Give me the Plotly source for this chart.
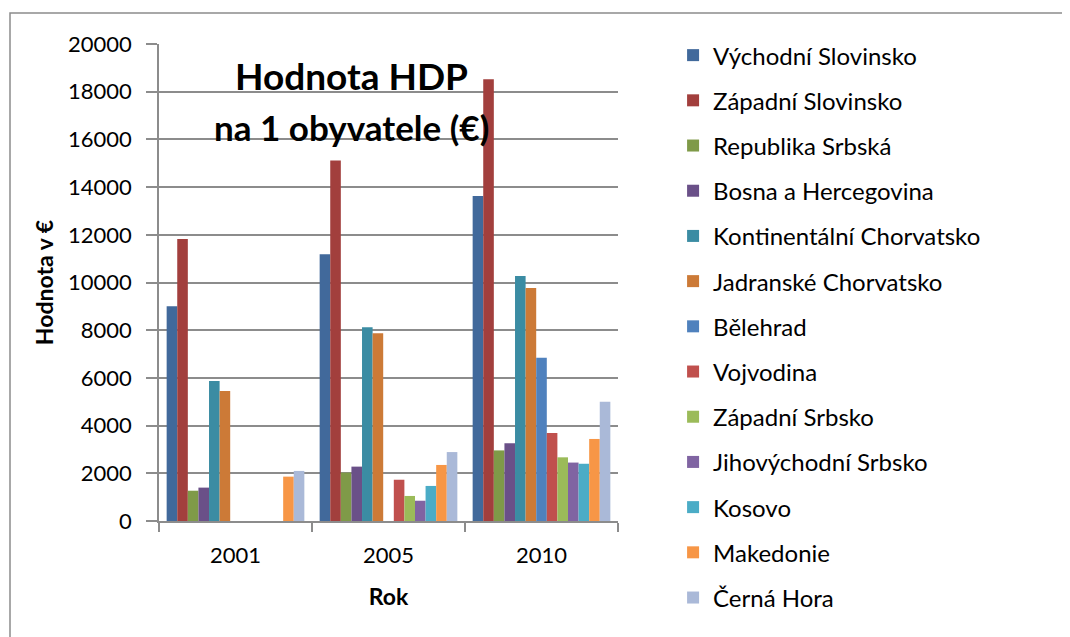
import plotly.graph_objects as go

years = ["2001", "2005", "2010"]
regions = [
    "Východní Slovinsko", "Západní Slovinsko", "Republika Srbská", "Bosna a Hercegovina",
    "Kontinentální Chorvatsko", "Jadranské Chorvatsko", "Bělehrad", "Vojvodina",
    "Západní Srbsko", "Jihovýchodní Srbsko", "Kosovo", "Makedonie", "Černá Hora",
]
vychodni_slovinsko = [9000, 11180, 13630]
zapadni_slovinsko = [11820, 15120, 18520]
republika_srbska = [1270, 2030, 2960]
bosna_a_hercegovina = [1400, 2280, 3260]
kontinentalni_chorvatsko = [5870, 8120, 10270]
jadranske_chorvatsko = [5450, 7870, 9770]
belehrad = [None, None, 6850]
vojvodina = [None, 1730, 3690]
zapadni_srbsko = [None, 1050, 2670]
jihovychodni_srbsko = [None, 850, 2450]
kosovo = [None, 1470, 2400]
makedonie = [1860, 2350, 3440]
cerna_hora = [2100, 2890, 5000]

series = [vychodni_slovinsko, zapadni_slovinsko, republika_srbska, bosna_a_hercegovina,
          kontinentalni_chorvatsko, jadranske_chorvatsko, belehrad, vojvodina,
          zapadni_srbsko, jihovychodni_srbsko, kosovo, makedonie, cerna_hora]
colors = ["#41699B", "#A23F3D", "#7F9A48", "#6A5088", "#3B8CA3", "#CC7A37",
          "#4F81BD", "#C0504D", "#9BBB59", "#8064A2", "#4BACC6", "#F79646", "#AAB9D8"]

FONT = "Lato"
GRAY = "#8C8C8C"

fig = go.Figure()
for name, vals, col in zip(regions, series, colors):
    fig.add_trace(go.Bar(x=years, y=vals, name=name, legendgroup=name,
                         marker=dict(color=col, line=dict(width=0))))

# plot area on page: x 158..617, y 44..521 (page body has 8px offset)
fig.update_layout(
    width=1070, height=637,
    margin=dict(l=151, r=460, t=36, b=124, autoexpand=False),
    paper_bgcolor="white", plot_bgcolor="white",
    barmode="group", bargap=0.1, bargroupgap=0,
    font=dict(family=FONT, size=22, color="black"),
    showlegend=True,
    legend=dict(x=1.12, xanchor="left", y=1.023, yanchor="top",
                font=dict(family=FONT, size=24, color="black"),
                tracegroupgap=11, bgcolor="rgba(0,0,0,0)", maxheight=1.0),
    xaxis=dict(showline=True, linecolor=GRAY, linewidth=1.5,
               ticks="outside", tickson="boundaries", ticklen=9, tickcolor=GRAY, tickwidth=1.5,
               ticklabelstandoff=14,
               tickfont=dict(size=22),
               title=dict(text="<b>Rok</b>", font=dict(size=23), standoff=22)),
    yaxis=dict(range=[0, 20000], dtick=2000, showline=True, linecolor=GRAY, linewidth=1.5,
               showgrid=True, gridcolor=GRAY, gridwidth=1.5,
               ticks="outside", ticklen=11, tickcolor=GRAY, tickwidth=1.5,
               ticklabelstandoff=10, tickformat="d",
               tickfont=dict(size=22),
               title=dict(text="<b>Hodnota v €</b>", font=dict(size=23), standoff=8)),
    annotations=[
        dict(text="<b>Hodnota HDP</b>", xref="paper", yref="paper",
             x=(350 - 158) / 459, y=(521 - 75) / 477, xanchor="center", yanchor="middle",
             showarrow=False, font=dict(family=FONT, size=37, color="black")),
        dict(text="<b>na 1 obyvatele (€)</b>", xref="paper", yref="paper",
             x=(350 - 158) / 459, y=(521 - 127) / 477, xanchor="center", yanchor="middle",
             showarrow=False, font=dict(family=FONT, size=35, color="black")),
    ],
    shapes=[dict(type="rect", xref="paper", yref="paper",
                 x0=(9 - 158) / 459, x1=2.2, y0=-0.5, y1=(521 - 13) / 477,
                 line=dict(color=GRAY, width=1.5), layer="below")],
)

fig.write_html("out.html")
